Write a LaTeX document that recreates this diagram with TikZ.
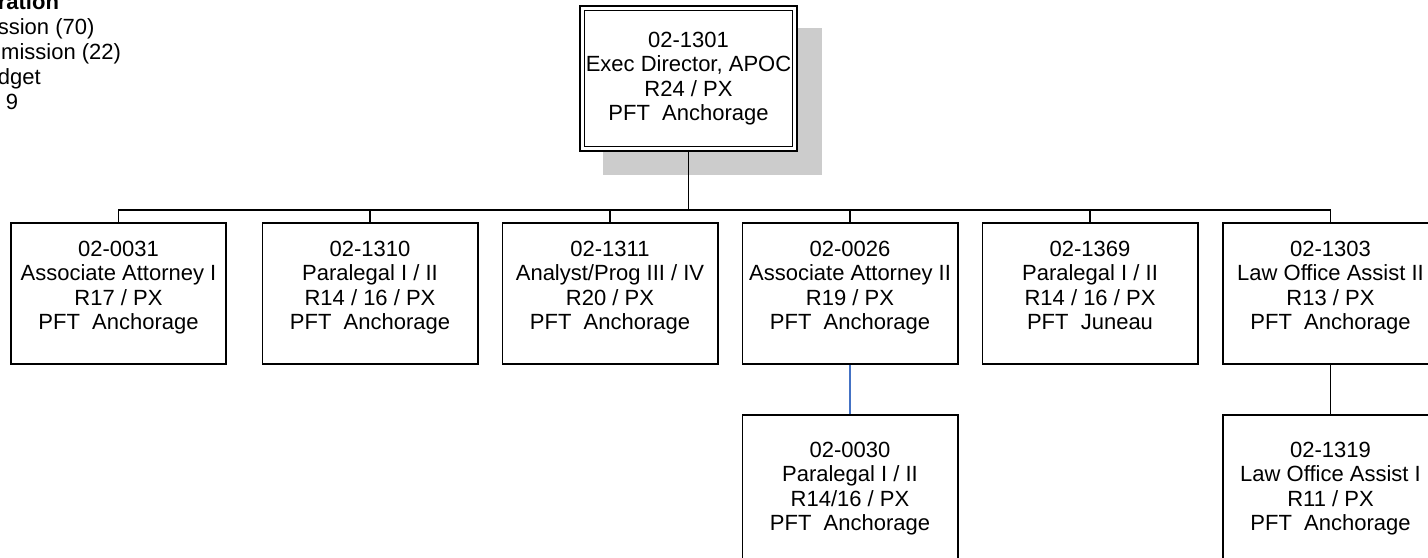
\documentclass[tikz,border=0pt]{standalone}
\usepackage{fontspec}
\setmainfont{Liberation Sans}

\definecolor{linkblue}{HTML}{4472C4}
\tikzset{
  post/.style={draw, line width=0.9pt, minimum width=107.6pt, minimum height=70.6pt,
    inner sep=1pt, align=center, font=\fontsize{11}{12.2}\selectfont},
  subpost/.style={post, minimum height=79.6pt},
  headpost/.style={post, fill=white, double, line width=0.9pt, double distance=1.4pt,
    minimum width=106.3pt, minimum height=70.3pt, outer sep=1.6pt},
}
\newcommand{\lowpad}{\rule[-8pt]{0pt}{8pt}}

\begin{document}
\begin{tikzpicture}[x=0.5pt, y=-0.5pt, line width=0.85pt]
    \useasboundingbox (0,0) rectangle (1428,557);
    \clip (0,0) rectangle (1428,557);
    % legend, cut at the page edge
    \node[anchor=north west, inner sep=0pt, align=left, font=\fontsize{11}{12.5}\selectfont] (note) at (-3,-7.4)
        {\textbf{ration}\\ssion (70)\\\hspace*{-7.5pt}mmission (22)\\dget\\\hspace*{4pt}9};
    % director and shadow
    \fill[black!20] (603,28) rectangle (822,175);
    \node[headpost] (exec) at (688.5,78.5) {02-1301\\Exec Director, APOC\\R24 / PX\\PFT~~Anchorage};
    % first row
    \node[post] (atty1) at (118.5,293.5) {02-0031\\Associate Attorney I\\R17 / PX\\PFT~~Anchorage\lowpad};
    \node[post] (para1) at (370,293.5) {02-1310\\Paralegal I / II\\R14 / 16 / PX\\PFT~~Anchorage\lowpad};
    \node[post] (prog) at (610,293.5) {02-1311\\Analyst/Prog III / IV\\R20 / PX\\PFT~~Anchorage\lowpad};
    \node[post] (atty2) at (850,293.5) {02-0026\\Associate Attorney II\\R19 / PX\\PFT~~Anchorage\lowpad};
    \node[post] (para2) at (1090,293.5) {02-1369\\Paralegal I / II\\R14 / 16 / PX\\PFT~~Juneau\lowpad};
    \node[post] (loa2) at (1330.5,293.5) {02-1303\\Law Office Assist II\\R13 / PX\\PFT~~Anchorage\lowpad};
    % second row
    \node[subpost] (para3) at (850,494.5) {02-0030\\Paralegal I / II\\R14/16 / PX\\PFT~~Anchorage\lowpad};
    \node[subpost] (loa1) at (1330.5,494.5) {02-1319\\Law Office Assist I\\R11 / PX\\PFT~~Anchorage\lowpad};
    % lines
    \foreach \n in {atty1,para1,prog,atty2,para2,loa2}
        \draw (exec.south) -- ++(0,58) -| (\n.north);
    \draw[linkblue] (atty2.south) -- (para3.north);
    \draw (loa2.south) -- (loa1.north);
\end{tikzpicture}
\end{document}
